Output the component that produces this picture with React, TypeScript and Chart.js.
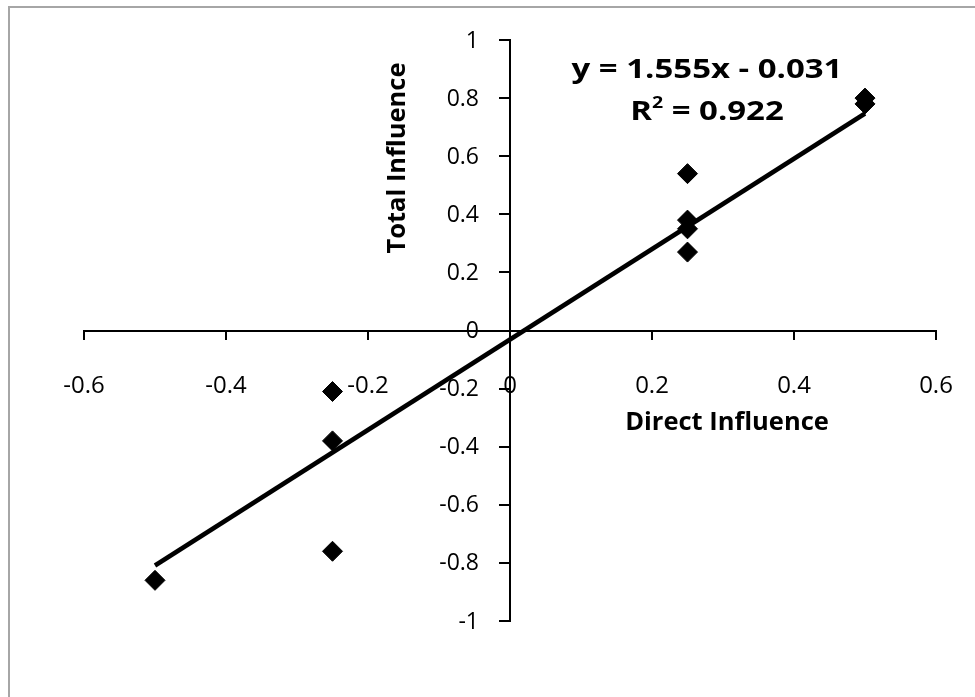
import React, { useEffect, useRef } from "react";
import { Chart, registerables } from "chart.js";

Chart.register(...registerables);

const directInfluence = [-0.5, -0.25, -0.25, -0.25, 0.25, 0.25, 0.25, 0.25, 0.5, 0.5];
const totalInfluence = [-0.86, -0.21, -0.38, -0.76, 0.54, 0.38, 0.35, 0.27, 0.8, 0.78];
const trendX = [-0.5, 0.5];
const trendY = [-0.809, 0.747];
const equationText = "y = 1.555x - 0.031";
const r2Value = "0.922";
const xTitle = "Direct Influence";
const yTitle = "Total Influence";

const FONT = "'Open Sans', 'Liberation Sans', sans-serif";

const fmt = (v: number) => String(Number(v.toFixed(1)));

const framePlugin = {
  id: "frame",
  beforeDraw(chart: any) {
    const ctx = chart.ctx;
    ctx.save();
    ctx.fillStyle = "#ffffff";
    ctx.fillRect(0, 0, chart.width, chart.height);
    ctx.strokeStyle = "#a6a6a6";
    ctx.lineWidth = 2;
    ctx.beginPath();
    ctx.moveTo(9, chart.height + 5);
    ctx.lineTo(9, 7);
    ctx.lineTo(chart.width + 5, 7);
    ctx.stroke();
    ctx.restore();
  },
};

function stretchedText(ctx: any, text: string, x: number, y: number, sx: number) {
  ctx.save();
  ctx.translate(x, y);
  ctx.scale(sx, 1);
  ctx.fillText(text, 0, 0);
  ctx.restore();
}

const annotationPlugin = {
  id: "annotations",
  afterDraw(chart: any) {
    const ctx = chart.ctx;
    const xs = chart.scales.x;
    const ys = chart.scales.y;
    ctx.save();
    ctx.fillStyle = "#000000";
    ctx.textBaseline = "middle";

    // y tick labels, to the left of the centred axis
    ctx.font = `23px ${FONT}`;
    ctx.textAlign = "right";
    const axisX = xs.getPixelForValue(0);
    ys.ticks.forEach((t: any) => {
      ctx.fillText(fmt(t.value), axisX - 31, ys.getPixelForValue(t.value) + 1);
    });

    // equation
    const SX = 1.22;
    ctx.font = `bold 27px ${FONT}`;
    ctx.textAlign = "center";
    const cx = 707;
    stretchedText(ctx, equationText, cx, 70, SX);
    // R^2 line
    const partR = "R";
    const partRest = " = " + r2Value;
    const wR = ctx.measureText(partR).width * SX;
    const wRest = ctx.measureText(partRest).width * SX;
    ctx.font = `bold 16px ${FONT}`;
    const wSup = ctx.measureText("2").width * SX;
    const total = wR + wSup + wRest;
    const x0 = cx - total / 2;
    ctx.textAlign = "left";
    ctx.font = `bold 27px ${FONT}`;
    stretchedText(ctx, partR, x0, 112, SX);
    ctx.font = `bold 16px ${FONT}`;
    stretchedText(ctx, "2", x0 + wR, 103, SX);
    ctx.font = `bold 27px ${FONT}`;
    stretchedText(ctx, partRest, x0 + wR + wSup, 112, SX);

    // axis titles
    ctx.font = `bold 25.5px ${FONT}`;
    ctx.textAlign = "center";
    ctx.fillText(xTitle, 727, 423);
    ctx.translate(398, 158);
    ctx.rotate(-Math.PI / 2);
    ctx.fillText(yTitle, 0, 0);
    ctx.restore();
  },
};

export default function App() {
  const ref = useRef<HTMLCanvasElement>(null);
  useEffect(() => {
    if (!ref.current) return;
    const chart = new Chart(ref.current, {
      type: "scatter",
      data: {
        datasets: [
          {
            label: "Total Influence",
            data: directInfluence.map((x, i) => ({ x, y: totalInfluence[i] })),
            pointStyle: "rectRot",
            pointRadius: 10,
            pointHoverRadius: 10,
            backgroundColor: "#000000",
            borderColor: "#000000",
            borderWidth: 1,
          },
          {
            label: "Trend",
            data: trendX.map((x, i) => ({ x, y: trendY[i] })),
            showLine: true,
            borderColor: "#000000",
            borderWidth: 4.5,
            pointRadius: 0,
            borderCapStyle: "butt",
          } as any,
        ],
      },
      options: {
        animation: false,
        responsive: false,
        layout: { padding: { left: 84, top: 40, right: 39, bottom: 76 } },
        plugins: {
          legend: { display: false },
          tooltip: { enabled: false },
          title: { display: false },
        },
        scales: {
          x: {
            type: "linear",
            min: -0.6,
            max: 0.6,
            position: { y: 0 } as any,
            afterFit: (scale: any) => {
              scale.paddingLeft = 0;
              scale.paddingRight = 0;
            },
            ticks: {
              stepSize: 0.2,
              color: "#000000",
              padding: 33,
              font: { family: FONT, size: 24 },
              maxRotation: 0,
              autoSkip: false,
              callback: (v: any) => fmt(Number(v)),
            },
            grid: {
              display: true,
              drawOnChartArea: false,
              drawTicks: true,
              tickLength: 8,
              color: "#000000",
              lineWidth: 2,
            },
            border: { display: true, color: "#000000", width: 2 },
          },
          y: {
            type: "linear",
            min: -1,
            max: 1,
            position: { x: 0 } as any,
            afterFit: (scale: any) => {
              scale.paddingTop = 0;
              scale.paddingBottom = 0;
            },
            ticks: {
              display: false,
              stepSize: 0.2,
              autoSkip: false,
            },
            grid: {
              display: true,
              drawOnChartArea: false,
              drawTicks: true,
              tickLength: 10,
              color: "#000000",
              lineWidth: 2,
            },
            border: { display: true, color: "#000000", width: 2 },
          },
        },
      },
      plugins: [framePlugin, annotationPlugin],
    });
    return () => chart.destroy();
  }, []);
  return (
    <div style={{ position: "absolute", left: 0, top: 0, width: 975, height: 697 }}>
      <canvas ref={ref} width={975} height={697} style={{ display: "block" }} />
    </div>
  );
}
